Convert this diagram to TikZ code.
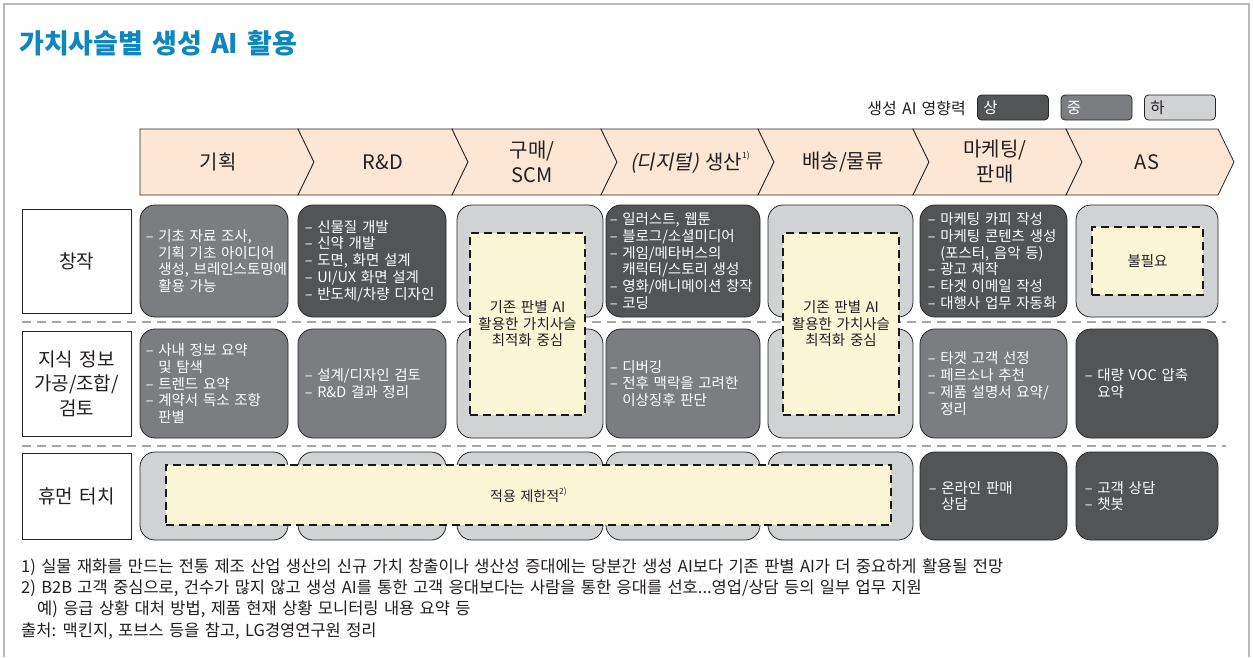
\documentclass[tikz,border=0pt]{standalone}
\usepackage{fontspec}
\setmainfont[WordSpace=1.45]{Noto Sans CJK KR}
\newfontfamily\slantkr[FakeSlant=0.2,WordSpace=1.45]{Noto Sans CJK KR}
\usetikzlibrary{calc}
\definecolor{dkc}{RGB}{83,84,86}
\definecolor{mdc}{RGB}{124,125,128}
\definecolor{ltc}{RGB}{209,210,212}
\definecolor{ylc}{RGB}{250,246,214}
\definecolor{pkc}{RGB}{253,230,212}
\definecolor{ttc}{RGB}{14,134,190}
\definecolor{sepc}{RGB}{165,165,165}
\definecolor{frc}{RGB}{185,185,185}
\definecolor{txc}{RGB}{35,31,32}
\newcommand\hng{\phantom{– }}
\newcommand\supx[1]{\raisebox{0.55em}{\fontsize{8.5}{8.5}\selectfont #1}}
\begin{document}
\begin{tikzpicture}[x=1pt,y=-1pt,
  cell/.style={draw=black!85, line width=0.8pt, rounded corners=15pt, inner sep=0pt},
  dkb/.style={cell, fill=dkc},
  mdb/.style={cell, fill=mdc},
  ltb/.style={cell, fill=ltc},
  cw1/.style={minimum width=148pt}, cw2/.style={minimum width=148pt},
  cw3/.style={minimum width=146pt}, cw4/.style={minimum width=154pt},
  cw5/.style={minimum width=145pt}, cw6/.style={minimum width=147pt},
  cw7/.style={minimum width=142pt},
  rh1/.style={minimum height=112pt}, rh2/.style={minimum height=109pt},
  rh3/.style={minimum height=88pt},
  celltxt/.style={anchor=west, align=left, inner sep=0pt, text=white, font=\fontsize{14.5}{16.8}\selectfont},
  yel/.style={draw=black!90, fill=ylc, line width=1.2pt, dash pattern=on 8pt off 5pt, inner sep=0pt, align=center, text=txc, font=\fontsize{14.5}{16.5}\selectfont},
  lab/.style={draw=black!85, fill=white, line width=0.8pt, inner sep=0pt, align=center, text=txc, font=\fontsize{19}{24.5}\selectfont},
  chev/.style={draw=black!85, fill=pkc, line width=0.8pt},
  htxt/.style={inner sep=0pt, align=center, text=txc, font=\fontsize{20}{25}\selectfont},
  sep/.style={draw=sepc, line width=1.5pt, dash pattern=on 9pt off 6pt},
  legb/.style={draw=black!85, line width=0.8pt, rounded corners=4pt, minimum width=71pt, minimum height=25pt, inner sep=0pt},
  legt/.style={anchor=west, inner sep=0pt, font=\fontsize{15.5}{17}\selectfont},
  fn/.style={anchor=base west, inner sep=0pt, text=txc, font=\fontsize{16.5}{20}\selectfont}
]
\useasboundingbox (0,0) rectangle (1253,657);
\fill[white] (0,0) rectangle (1253,657);
\draw[frc, line width=1.3pt] (4,657) -- (4,4) -- (1249,4) -- (1249,657);

% title
\node[anchor=west, inner sep=0pt, text=ttc, font=\fontsize{27}{32}\selectfont\bfseries] (title) at (19,43) {가치사슬별 생성 AI 활용};

% legend
\node[anchor=east, inner sep=0pt, text=txc, font=\fontsize{16}{18}\selectfont] (legtxt) at (966,108) {생성 AI 영향력};
\node[legb, fill=dkc] (leg1) at (1013,107.5) {};
\node[legb, fill=mdc] (leg2) at (1096.5,107.5) {};
\node[legb, fill=ltc] (leg3) at (1180,107.5) {};
\node[legt, text=white] (leg1t) at ([xshift=6pt]leg1.west) {상};
\node[legt, text=white] (leg2t) at ([xshift=6pt]leg2.west) {중};
\node[legt, text=txc] (leg3t) at ([xshift=6pt]leg3.west) {하};

% header chevrons
\draw[chev] (140,129) -- (298,129) -- (314,162) -- (298,195) -- (140,195) -- cycle;
\draw[chev] (298,129) -- (452,129) -- (468,162) -- (452,195) -- (298,195) -- (314,162) -- cycle;
\draw[chev] (452,129) -- (601,129) -- (617,162) -- (601,195) -- (452,195) -- (468,162) -- cycle;
\draw[chev] (601,129) -- (758,129) -- (774,162) -- (758,195) -- (601,195) -- (617,162) -- cycle;
\draw[chev] (758,129) -- (913,129) -- (929,162) -- (913,195) -- (758,195) -- (774,162) -- cycle;
\draw[chev] (913,129) -- (1066,129) -- (1082,162) -- (1066,195) -- (913,195) -- (929,162) -- cycle;
\draw[chev] (1066,129) -- (1218,129) -- (1234,162) -- (1218,195) -- (1066,195) -- (1082,162) -- cycle;
\node[htxt] (h1) at (218,162) {기획};
\node[htxt] (h2) at (383,162) {R\&D};
\node[htxt] (h3) at (532,162) {구매/\\SCM};
\node[htxt] (h4) at (690,162) {{\slantkr (디지털)} 생산\supx{1)}};
\node[htxt] (h5) at (843,162) {배송/물류};
\node[htxt] (h6) at (995,162) {마케팅/\\판매};
\node[htxt] (h7) at (1147,162) {AS};

% row labels
\node[lab, minimum width=109pt, minimum height=104pt] (l1) at (76.5,261) {창작};
\node[lab, minimum width=109pt, minimum height=105pt] (l2) at (76.5,383.5) {지식 정보\\가공/조합/\\검토};
\node[lab, minimum width=109pt, minimum height=86pt] (l3) at (76.5,496) {휴먼 터치};

% separators
\coordinate (s1a) at (22,322); \coordinate (s1b) at (1226,322);
\coordinate (s2a) at (22,446); \coordinate (s2b) at (1226,446);
\draw[sep] (s1a) -- (s1b);
\draw[sep] (s2a) -- (s2b);

% row 1
\node[mdb, cw1, rh1] (b11) at (214,261) {};
\node[dkb, cw2, rh1] (b12) at (372,261) {};
\node[ltb, cw3, rh1] (b13) at (530,261) {};
\node[dkb, cw4, rh1] (b14) at (683,261) {};
\node[ltb, cw5, rh1] (b15) at (840.5,261) {};
\node[dkb, cw6, rh1] (b16) at (993.5,261) {};
\node[ltb, cw7, rh1] (b17) at (1147,261) {};
% row 2
\node[mdb, cw1, rh2] (b21) at (214,383.5) {};
\node[mdb, cw2, rh2] (b22) at (372,383.5) {};
\node[ltb, cw3, rh2] (b23) at (530,383.5) {};
\node[mdb, cw4, rh2] (b24) at (683,383.5) {};
\node[ltb, cw5, rh2] (b25) at (840.5,383.5) {};
\node[mdb, cw6, rh2] (b26) at (993.5,383.5) {};
\node[dkb, cw7, rh2] (b27) at (1147,383.5) {};
% row 3
\node[ltb, cw1, rh3] (b31) at (214,496) {};
\node[ltb, cw2, rh3] (b32) at (372,496) {};
\node[ltb, cw3, rh3] (b33) at (530,496) {};
\node[ltb, cw4, rh3] (b34) at (683,496) {};
\node[ltb, cw5, rh3] (b35) at (840.5,496) {};
\node[dkb, cw6, rh3] (b36) at (993.5,496) {};
\node[dkb, cw7, rh3] (b37) at (1147,496) {};

% cell texts
\node[celltxt] (t11) at ([xshift=6pt]b11.west) {– 기초 자료 조사,\\\hng 기획 기초 아이디어\\\hng 생성, 브레인스토밍에\\\hng 활용 가능};
\node[celltxt] (t12) at ([xshift=7pt]b12.west) {– 신물질 개발\\– 신약 개발\\– 도면, 화면 설계\\– UI/UX 화면 설계\\– 반도체/차량 디자인};
\node[celltxt] (t14) at ([xshift=4pt]b14.west) {– 일러스트, 웹툰\\– 블로그/소셜미디어\\– 게임/메타버스의\\\hng 캐릭터/스토리 생성\\– 영화/애니메이션 창작\\– 코딩};
\node[celltxt] (t16) at ([xshift=8pt]b16.west) {– 마케팅 카피 작성\\– 마케팅 콘텐츠 생성\\\hng (포스터, 음악 등)\\– 광고 제작\\– 타겟 이메일 작성\\– 대행사 업무 자동화};
\node[celltxt] (t21) at ([xshift=6pt]b21.west) {– 사내 정보 요약\\\hng 및 탐색\\– 트렌드 요약\\– 계약서 독소 조항\\\hng 판별};
\node[celltxt] (t22) at ([xshift=7pt]b22.west) {– 설계/디자인 검토\\– R\&D 결과 정리};
\node[celltxt] (t24) at ([xshift=4pt]b24.west) {– 디버깅\\– 전후 맥락을 고려한\\\hng 이상징후 판단};
\node[celltxt] (t26) at ([xshift=8pt]b26.west) {– 타겟 고객 선정\\– 페르소나 추천\\– 제품 설명서 요약/\\\hng 정리};
\node[celltxt] (t27) at ([xshift=9pt]b27.west) {– 대량 VOC 압축\\\hng 요약};
\node[celltxt] (t36) at ([xshift=9pt]b36.west) {– 온라인 판매\\\hng 상담};
\node[celltxt] (t37) at ([xshift=9pt]b37.west) {– 고객 상담\\– 챗봇};

% yellow dashed areas
\node[yel, minimum width=115pt, minimum height=182pt] (y3) at (527.5,324) {기존 판별 AI\\활용한 가치사슬\\최적화 중심};
\node[yel, minimum width=116pt, minimum height=182pt] (y5) at (841,324) {기존 판별 AI\\활용한 가치사슬\\최적화 중심};
\node[yel, minimum width=111pt, minimum height=68pt] (y7) at (1147.5,261) {불필요};
\node[yel, minimum width=725pt, minimum height=60pt, font=\fontsize{14}{16}\selectfont] (yr3) at (528.5,495) {적용 제한적\supx{2)}};

% footnotes
\node[fn] (fn1) at (21,572) {1) 실물 재화를 만드는 전통 제조 산업 생산의 신규 가치 창출이나 생산성 증대에는 당분간 생성 AI보다 기존 판별 AI가 더 중요하게 활용될 전망};
\node[fn] (fn2) at (21,593) {2) B2B 고객 중심으로, 건수가 많지 않고 생성 AI를 통한 고객 응대보다는 사람을 통한 응대를 선호...영업/상담 등의 일부 업무 지원};
\node[fn] (fn3) at (37,614) {예) 응급 상황 대처 방법, 제품 현재 상황 모니터링 내용 요약 등};
\node[fn] (fn4) at (21,636) {출처: 맥킨지, 포브스 등을 참고, LG경영연구원 정리};
\end{tikzpicture}
\end{document}
